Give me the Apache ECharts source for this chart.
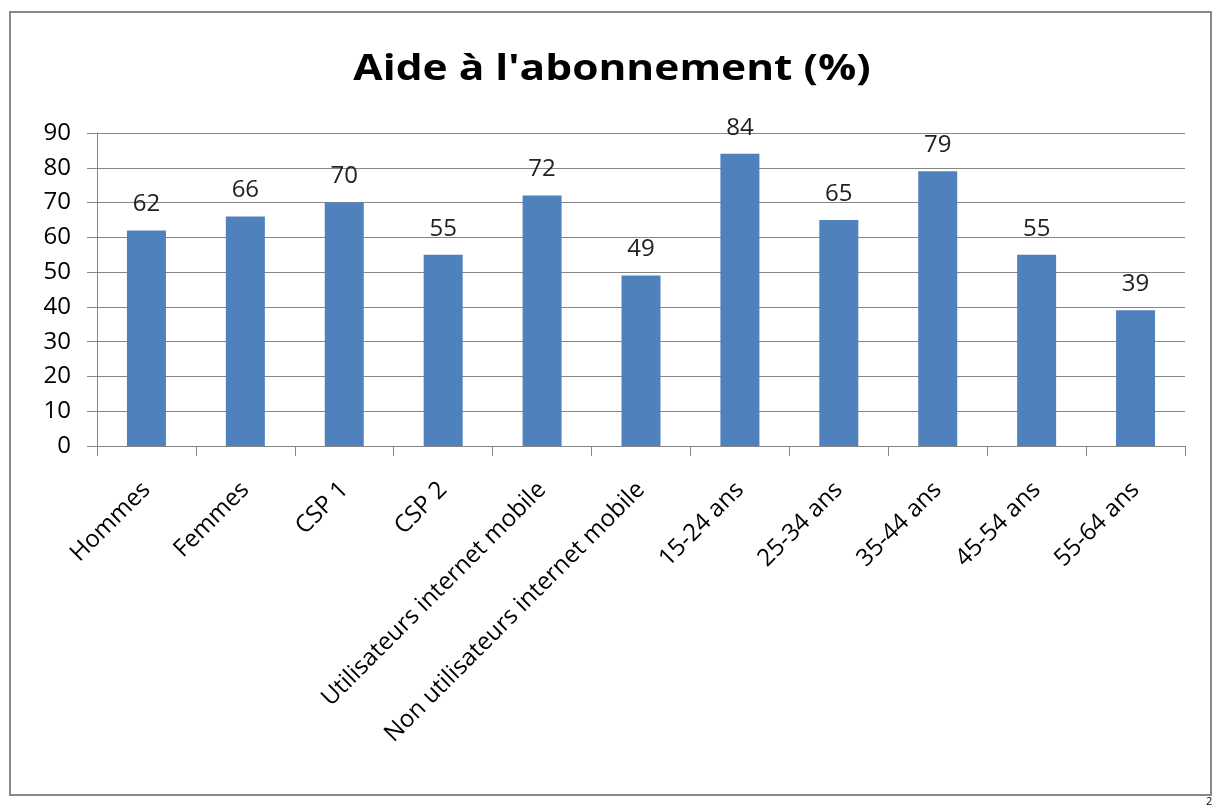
<!DOCTYPE html>
<html>
<head>
<meta charset="UTF-8">
<title>Aide à l'abonnement (%)</title>
<script src="https://cdn.jsdelivr.net/npm/echarts@6/dist/echarts.min.js"></script>
<style>
  html, body { margin: 0; padding: 0; background: #fff; }
  #container { width: 1214px; height: 808px; }
</style>
</head>
<body>
<div id="container"></div>
<script>
// donnees du graphique
var categories = ['Hommes', 'Femmes', 'CSP 1', 'CSP 2', 'Utilisateurs internet mobile',
  'Non utilisateurs internet mobile', '15-24 ans', '25-34 ans', '35-44 ans', '45-54 ans', '55-64 ans'];
var values = [62, 66, 70, 55, 72, 49, 84, 65, 79, 55, 39];
var yTicks = { min: 0, max: 90, step: 10 };
var titleText = "Aide à l'abonnement (%)";

var font = '"Open Sans", Lato, sans-serif';
var myChart = echarts.init(document.getElementById('container'));

var option = {
  animation: false,
  grid: { left: 97, right: 29, top: 133, bottom: 362 },
  xAxis: {
    type: 'category',
    data: categories,
    axisLine: { lineStyle: { color: '#868686', width: 1 } },
    axisTick: { show: true, length: 10, lineStyle: { color: '#868686' } },
    axisLabel: {
      rotate: 45,
      interval: 0,
      margin: 40,
      fontFamily: font,
      fontSize: 24,
      color: '#000'
    }
  },
  yAxis: {
    type: 'value',
    min: yTicks.min,
    max: yTicks.max,
    interval: yTicks.step,
    axisLine: { show: true, lineStyle: { color: '#868686', width: 1 } },
    axisTick: { show: true, length: 10, lineStyle: { color: '#868686' } },
    axisLabel: { fontFamily: font, fontSize: 24, color: '#000', margin: 26 },
    splitLine: { lineStyle: { color: '#868686', width: 1 } }
  },
  series: [{
    type: 'bar',
    data: values,
    barWidth: 39,
    itemStyle: { color: '#4F81BD' },
    label: {
      show: true,
      position: 'top',
      distance: 14,
      fontFamily: font,
      fontSize: 24,
      color: '#222'
    }
  }],
  graphic: [
    {
      // titre un peu etire comme dans l'original
      type: 'text',
      x: 612,
      y: 70,
      scaleX: 1.18,
      style: {
        text: titleText,
        font: 'bold 36px ' + font,
        fill: '#000',
        textAlign: 'center',
        textVerticalAlign: 'middle'
      }
    },
    {
      type: 'rect',
      shape: { x: 10, y: 12, width: 1201, height: 783 },
      style: { fill: 'none', stroke: '#888', lineWidth: 2 },
      silent: true
    },
    {
      type: 'text',
      left: 1206,
      top: 796,
      style: { text: '2', font: '11px ' + font, fill: '#000' }
    }
  ]
};

myChart.setOption(option);
</script>
</body>
</html>
